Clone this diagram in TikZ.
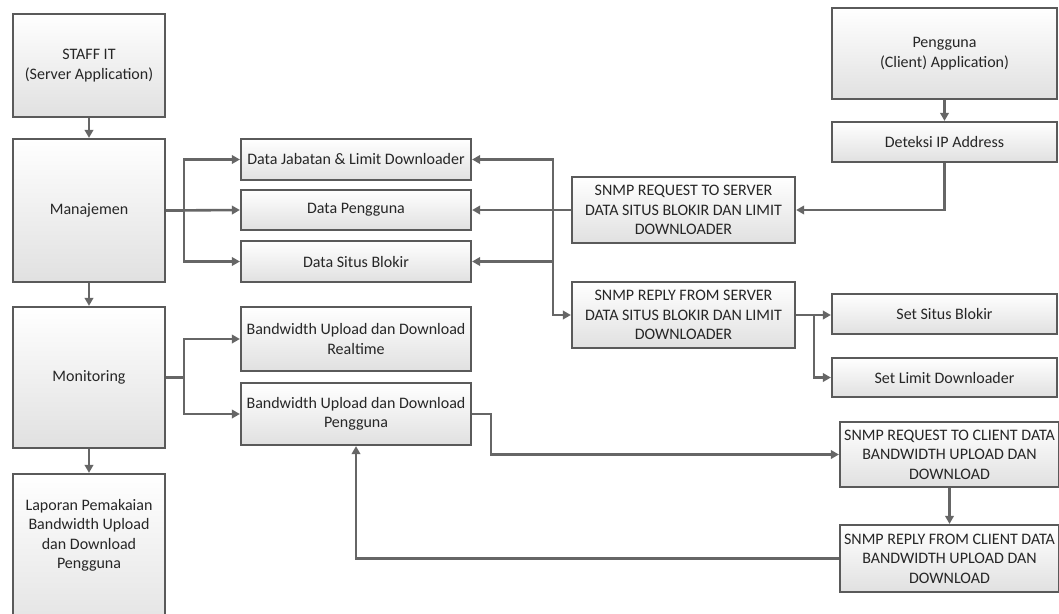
\documentclass[tikz,border=0pt]{standalone}
\usepackage{fontspec}
\setmainfont{Carlito}
\usetikzlibrary{arrows.meta,shadows}
\definecolor{edge}{HTML}{5A5A5A}
\definecolor{wire}{HTML}{666666}
\definecolor{ink}{HTML}{262626}
\begin{document}
\begin{tikzpicture}[x=1pt,y=-1pt,
  box/.style={draw=edge,line width=2.2pt,top color=white,bottom color=black!12,
    inner sep=0pt,align=center,text=ink,font=\fontsize{16}{19.5}\selectfont,
    drop shadow={shadow xshift=1pt,shadow yshift=-1pt,opacity=0.25}},
  lbl/.style={inner sep=0pt,align=center,text=ink,font=\fontsize{16}{19.5}\selectfont},
  wireline/.style={draw=wire,line width=2.6pt},
  flow/.style={wireline,-{Triangle[length=8pt,width=8.5pt]}}]
\useasboundingbox (0,0) rectangle (1059,613);
\clip (0,0) rectangle (1059,613);

% server side column
\node[box,minimum width=152,minimum height=103] (staff) at (89,65.5) {STAFF IT\\(Server Application)};
\node[box,minimum width=152,minimum height=143] (manaj) at (89,210.5) {Manajemen};
\node[box,minimum width=152,minimum height=141] (monit) at (89,377.5) {Monitoring};
\node[box,minimum width=152,minimum height=170] (lapor) at (89,559) {};
\node[lbl] (laportext) at (89,535.5) {Laporan Pemakaian\\Bandwidth Upload\\dan Download\\Pengguna};

% data stores
\node[box,minimum width=230,minimum height=41] (jab) at (356,159.5) {Data Jabatan \& Limit Downloader};
\node[box,minimum width=230,minimum height=40] (dpeng) at (356,210) {Data Pengguna};
\node[box,minimum width=230,minimum height=41] (situs) at (356,261.5) {Data Situs Blokir};
\node[box,minimum width=230,minimum height=64] (bwr) at (356,339) {Bandwidth Upload dan Download\\Realtime};
\node[box,minimum width=230,minimum height=62] (bwp) at (356,414) {Bandwidth Upload dan Download\\Pengguna};

% SNMP server exchange
\node[box,minimum width=223,minimum height=66] (req) at (683.5,210) {SNMP REQUEST TO SERVER\\DATA SITUS BLOKIR DAN LIMIT\\DOWNLOADER};
\node[box,minimum width=223,minimum height=66] (rep) at (683.5,315) {SNMP REPLY FROM SERVER\\DATA SITUS BLOKIR DAN LIMIT\\DOWNLOADER};

% client side column
\node[box,minimum width=225,minimum height=91] (peng) at (944.5,53.5) {Pengguna\\(Client) Application)};
\node[box,minimum width=225,minimum height=40] (detek) at (944.5,142) {Deteksi IP Address};
\node[box,minimum width=225,minimum height=40] (setsitus) at (944.5,314) {Set Situs Blokir};
\node[box,minimum width=225,minimum height=39] (setlimit) at (944.5,377.5) {Set Limit Downloader};
\node[box,minimum width=219,minimum height=65] (reqc) at (949.5,454.5) {SNMP REQUEST TO CLIENT DATA\\BANDWIDTH UPLOAD DAN\\DOWNLOAD};
\node[box,minimum width=219,minimum height=67] (repc) at (949.5,558.5) {SNMP REPLY FROM CLIENT DATA\\BANDWIDTH UPLOAD DAN\\DOWNLOAD};

% vertical flow on the server side
\draw[flow] (staff.south) -- (manaj.north);
\draw[flow] (manaj.south) -- (monit.north);
\draw[flow] (monit.south) -- (lapor.north);

% management branches
\draw[flow] (manaj.east) -- (dpeng.west);
\draw[flow] (manaj.east) -- ++(18,0) |- (jab.west);
\draw[flow] (manaj.east) -- ++(18,0) |- (situs.west);

% monitoring branches
\draw[flow] (monit.east) -- ++(18,0) |- (bwr.west);
\draw[flow] (monit.east) -- ++(18,0) |- (bwp.west);

% SNMP server bus
\draw[flow] (req.west) -- (dpeng.east);
\draw[flow] (req.west) -- ++(-18,0) |- (jab.east);
\draw[flow] (req.west) -- ++(-18,0) |- (situs.east);
\draw[flow] (req.west) -- ++(-18,0) |- (rep.west);

% client detection
\draw[flow] (peng.south) -- (detek.north);
\draw[flow] (detek.south) |- (req.east);

% reply settings
\draw[flow] (rep.east) -- (rep.east -| setsitus.west);
\draw[flow] (rep.east) -- ++(18,0) |- (setlimit.west);

% bandwidth exchange with client
\draw[flow] (bwp.east) -- ++(19,0) |- (reqc.west);
\draw[flow] (reqc.south) -- (repc.north);
\draw[flow] (repc.west) -| (bwp.south);
\end{tikzpicture}
\end{document}
